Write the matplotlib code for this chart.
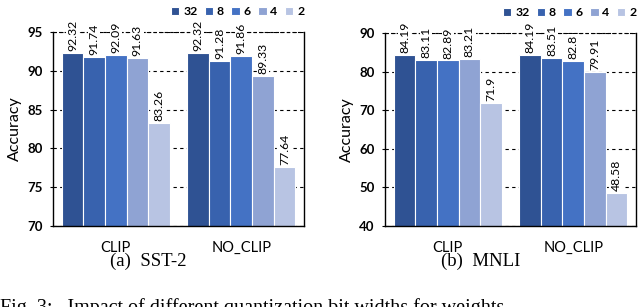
import matplotlib
matplotlib.use("Agg")
import matplotlib.pyplot as plt
import numpy as np

groups = ["CLIP", "NO_CLIP"]
bits = ["32", "8", "6", "4", "2"]
colors = ["#2F5293", "#3862AE", "#4472C4", "#8FA3D3", "#B8C4E3"]

sst2 = {
    "32": [92.32, 92.32],
    "8": [91.74, 91.28],
    "6": [92.09, 91.86],
    "4": [91.63, 89.33],
    "2": [83.26, 77.64],
}
mnli = {
    "32": [84.19, 84.19],
    "8": [83.11, 83.51],
    "6": [82.89, 82.8],
    "4": [83.21, 79.91],
    "2": [71.9, 48.58],
}
sst2_labels = {"32": ["92.32", "92.32"], "8": ["91.74", "91.28"], "6": ["92.09", "91.86"],
               "4": ["91.63", "89.33"], "2": ["83.26", "77.64"]}
mnli_labels = {"32": ["84.19", "84.19"], "8": ["83.11", "83.51"], "6": ["82.89", "82.8"],
               "4": ["83.21", "79.91"], "2": ["71.9", "48.58"]}

sst2_ylim = (70, 95)
sst2_ticks = [70, 75, 80, 85, 90, 95]
mnli_ylim = (40, 90)
mnli_ticks = [40, 50, 60, 70, 80, 90]

captions = ["(a)  SST-2", "(b)  MNLI"]
fig_caption = "Fig. 3:   Impact of different quantization bit widths for weights"

sans = ["Lato", "DejaVu Sans"]
serif = ["Liberation Serif", "DejaVu Serif"]

fig = plt.figure(figsize=(6.4, 3.07), dpi=100)
W, H = 640, 307

def px_axes(x0, x1, ytop, ybot):
    return fig.add_axes([x0 / W, 1 - ybot / H, (x1 - x0) / W, (ybot - ytop) / H])

ax1 = px_axes(53, 304, 32, 226)
ax2 = px_axes(385, 636, 33, 226)

bw = 0.172
x = np.arange(len(groups))

def draw(ax, data, labels, ylim, ticks, caption, cx):
    ax.set_axisbelow(True)
    for i, b in enumerate(bits):
        pos = x + (i - 2) * bw
        ax.bar(pos, data[b], width=bw, color=colors[i], edgecolor="white",
               linewidth=0.8, label=b, zorder=2)
        for p, v, s in zip(pos, data[b], labels[b]):
            ax.text(p, v + 0.01 * (ylim[1] - ylim[0]), s, rotation=90, ha="center",
                    va="bottom", fontsize=8.8, family=sans, zorder=4,
                    bbox=dict(facecolor="white", edgecolor="none", pad=0.5))
    ax.set_xlim(-0.5, 1.5)
    ax.set_ylim(*ylim)
    ax.set_yticks(ticks)
    ax.set_yticklabels([str(t) for t in ticks], fontsize=9.5, fontweight="bold", family=sans)
    ax.set_xticks(x)
    ax.set_xticklabels(groups, fontsize=10.5, family=sans)
    ax.tick_params(axis="x", length=0, pad=10.5)
    ax.tick_params(axis="y", length=2.5, width=0.8, direction="out", pad=5)
    ax.yaxis.grid(True, linestyle=(0, (3, 3)), color="black", linewidth=0.8, zorder=0)
    ax.set_ylabel("Accuracy", fontsize=11.5, family=sans, labelpad=4)
    ax.spines["top"].set_visible(False)
    for s in ["left", "right", "bottom"]:
        ax.spines[s].set_color("black")
        ax.spines[s].set_linewidth(1.0)
    ax.axhline(ylim[1], color="black", linestyle=(0, (3, 2)), linewidth=0.8, zorder=1,
               clip_on=False)
    ax.legend(ncol=5, loc="lower right", bbox_to_anchor=(1.02, 1.05),
              frameon=False, handlelength=0.7, handleheight=0.7,
              handletextpad=0.3, columnspacing=0.6, borderaxespad=0,
              prop=dict(family=sans, weight="bold", size=8.8))
    fig.text(cx / W, 1 - 261.5 / H, caption, ha="center", va="center",
             fontsize=13.5, family=serif)

draw(ax1, sst2, sst2_labels, sst2_ylim, sst2_ticks, captions[0], 148)
draw(ax2, mnli, mnli_labels, mnli_ylim, mnli_ticks, captions[1], 481)

fig.text(0 / W, 1 - 298 / H, fig_caption, ha="left", va="top", fontsize=14.5, family=serif)

fig.savefig("out.png", dpi=100)
